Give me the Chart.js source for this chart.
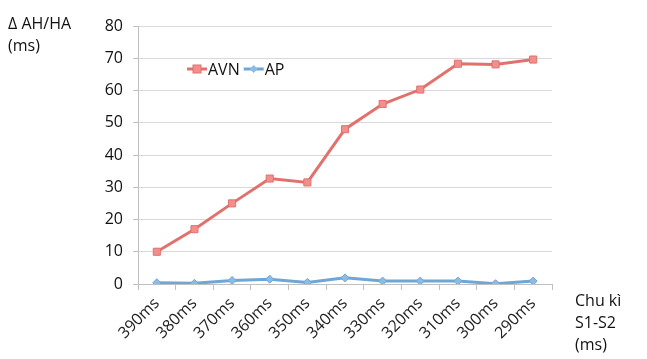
<!DOCTYPE html>
<html>
<head>
<meta charset="utf-8">
<script src="https://cdn.jsdelivr.net/npm/chart.js@4/dist/chart.umd.min.js"></script>
<style>
  html, body { margin: 0; padding: 0; background: #fff; }
  #wrap { position: relative; width: 647px; height: 359px; }
  .lbl { position: absolute; font-family: "Open Sans", sans-serif; font-size: 16px; color: #111; line-height: 22px; }
</style>
</head>
<body>
<div id="wrap">
  <canvas id="myChart" width="647" height="359"></canvas>
  <div class="lbl" style="left:8px; top:12px;">Δ AH/HA<br>(ms)</div>
  <div class="lbl" style="left:575px; top:289px;">Chu kì<br>S1-S2<br>(ms)</div>
</div>
<script>
const categories = ['390ms', '380ms', '370ms', '360ms', '350ms', '340ms', '330ms', '320ms', '310ms', '300ms', '290ms'];
const avnValues = [10, 17, 25, 32.7, 31.5, 48, 55.8, 60.3, 68.3, 68.1, 69.6];
const apValues = [0.4, 0.2, 1.1, 1.5, 0.5, 1.9, 0.9, 0.9, 0.9, 0.1, 0.9];
const yTicks = [0, 10, 20, 30, 40, 50, 60, 70, 80];

const ctx = document.getElementById('myChart');

// legend drawn inside the plot, like the original
const insideLegend = {
    id: 'insideLegend',
    afterDraw(chart) {
        const c = chart.ctx;
        let x = 187, y = 69;
        c.save();
        c.font = '16px "Open Sans", sans-serif';
        c.textBaseline = 'middle';
        chart.data.datasets.forEach((ds) => {
            c.strokeStyle = ds.borderColor;
            c.lineWidth = 3;
            c.beginPath();
            c.moveTo(x, y);
            c.lineTo(x + 20, y);
            c.stroke();
            c.fillStyle = ds.pointBackgroundColor;
            c.strokeStyle = ds.pointBorderColor;
            c.lineWidth = 1;
            if (ds.pointStyle === 'rect') {
                c.fillRect(x + 6, y - 4, 8, 8);
                c.strokeRect(x + 6, y - 4, 8, 8);
            } else {
                c.beginPath();
                c.moveTo(x + 10, y - 4);
                c.lineTo(x + 14, y);
                c.lineTo(x + 10, y + 4);
                c.lineTo(x + 6, y);
                c.closePath();
                c.fill();
            }
            c.fillStyle = '#111';
            c.fillText(ds.label, x + 21, y + 1);
            x += 21 + c.measureText(ds.label).width + 4;
        });
        c.restore();
    }
};

window.addEventListener("load", (event) => new Chart(ctx, {
    type: 'line',
    data: {
        labels: categories,
        datasets: [{
            label: 'AVN',
            data: avnValues,
            borderColor: '#E2716E',
            borderWidth: 3,
            pointStyle: 'rect',
            pointRadius: 5,
            pointBackgroundColor: '#F28F8C',
            pointBorderColor: '#E2716E',
            pointBorderWidth: 1,
            tension: 0,
        }, {
            label: 'AP',
            data: apValues,
            borderColor: '#6EA6D6',
            borderWidth: 3,
            pointStyle: 'rectRot',
            pointRadius: 4,
            pointBackgroundColor: '#8DBBE3',
            pointBorderColor: '#6EA6D6',
            pointBorderWidth: 1,
            tension: 0,
        }]
    },
    options: {
        responsive: false,
        animation: false,
        layout: { padding: { left: 0, right: 95, top: 26, bottom: 0 } },
        plugins: {
            legend: { display: false },
            tooltip: { enabled: false }
        },
        scales: {
            x: {
                offset: true,
                grid: { offset: true, drawOnChartArea: false, color: '#BFBFBF', tickLength: 6 },
                border: { color: '#BFBFBF' },
                ticks: {
                    maxRotation: 45, minRotation: 45,
                    padding: 4,
                    font: { family: '"Open Sans", sans-serif', size: 16 },
                    color: '#222'
                },
                afterFit(scale) { scale.height = 75; }
            },
            y: {
                min: 0, max: 80,
                afterBuildTicks(scale) { scale.ticks = yTicks.map(v => ({ value: v })); },
                grid: { color: '#D9D9D9', tickLength: 5, tickColor: '#BFBFBF' },
                border: { color: '#BFBFBF' },
                ticks: {
                    padding: 10,
                    font: { family: '"Open Sans", sans-serif', size: 16 },
                    color: '#111'
                },
                afterFit(scale) { scale.width = 138; }
            }
        }
    },
    plugins: [insideLegend]
}));
</script>
</body>
</html>
